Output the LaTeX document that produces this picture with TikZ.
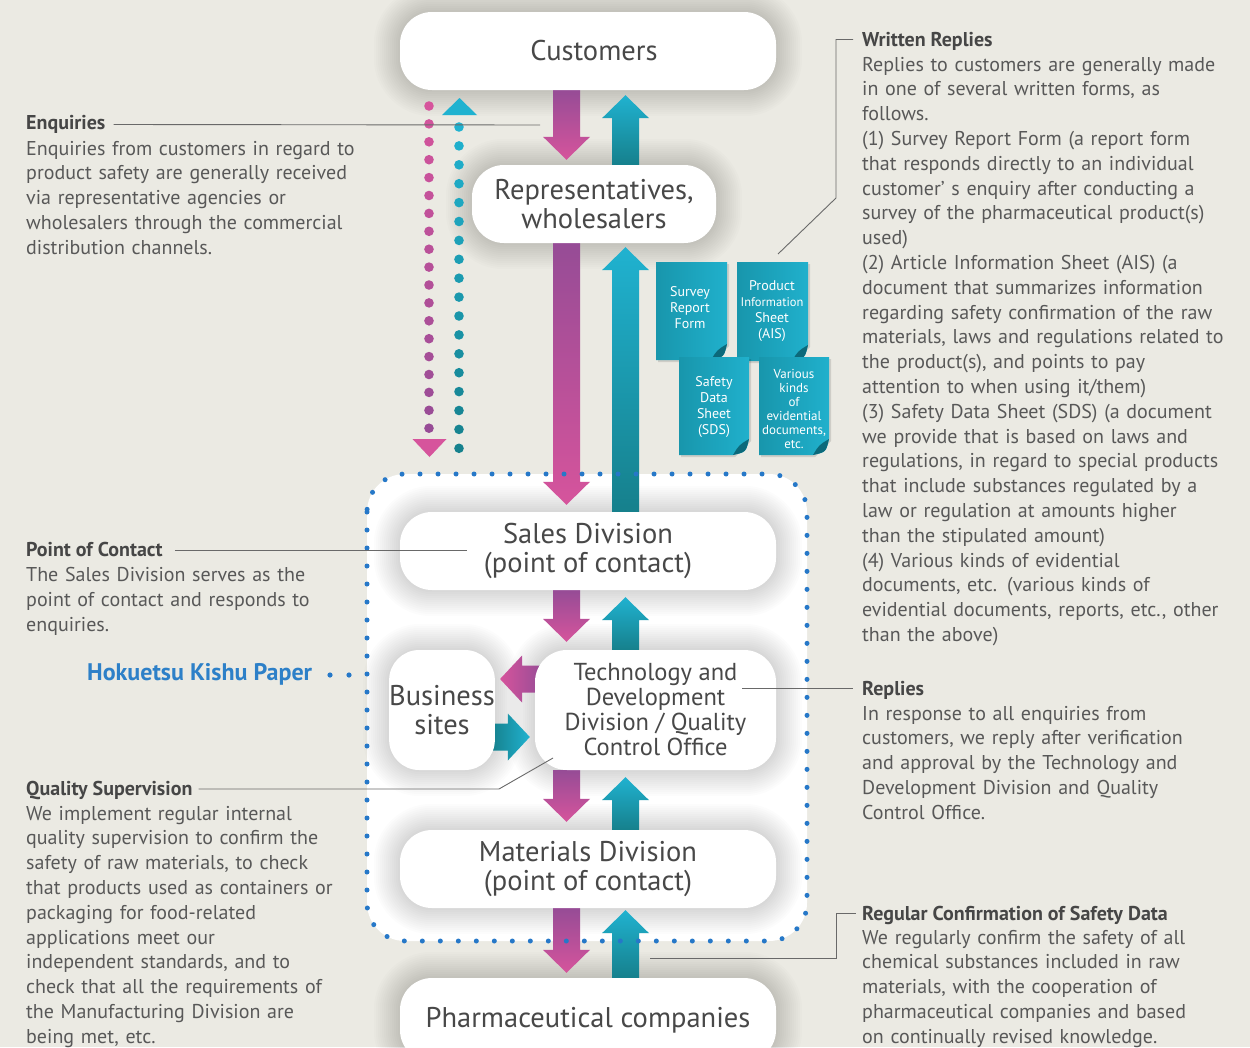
\documentclass[tikz,border=0pt]{standalone}
\usepackage{fontspec}
\setmainfont{PT Sans}
\usetikzlibrary{calc}
\definecolor{bgc}{RGB}{235,234,227}
\definecolor{txt}{RGB}{88,88,88}
\definecolor{hdc}{RGB}{70,70,70}
\definecolor{boxtxt}{RGB}{72,72,72}
\definecolor{pinkA}{RGB}{150,76,150}
\definecolor{pinkB}{RGB}{214,84,156}
\definecolor{tealA}{RGB}{22,128,140}
\definecolor{tealB}{RGB}{32,178,208}
\definecolor{dotblue}{RGB}{38,120,200}
\definecolor{hkblue}{RGB}{45,128,200}
\definecolor{docA}{RGB}{24,150,172}
\definecolor{docB}{RGB}{32,176,204}
\definecolor{docD}{RGB}{12,105,122}
\definecolor{leaderc}{RGB}{105,105,105}
\pgfdeclarelayer{bg}\pgfdeclarelayer{glow}\pgfdeclarelayer{arr}
\pgfsetlayers{bg,glow,arr,main}
\newcommand{\glowbox}[1]{\foreach \w in {4,8,...,52}{\draw[line width=\w pt, draw=black, draw opacity=0.012, rounded corners=32pt] (#1.south west) rectangle (#1.north east);}}
\newcommand{\pinkdown}[2]{\shade[top color=pinkA, bottom color=pinkB] ($(#1)+(-13.5,0)$) -- ($(#1)+(13.5,0)$) -- ($(#2)+(13.5,-23)$) -- ($(#2)+(23.5,-23)$) -- (#2) -- ($(#2)+(-23.5,-23)$) -- ($(#2)+(-13.5,-23)$) -- cycle;}
\newcommand{\tealup}[2]{\shade[top color=tealB, bottom color=tealA] ($(#1)+(-13.5,0)$) -- ($(#2)+(-13.5,23)$) -- ($(#2)+(-23.5,23)$) -- (#2) -- ($(#2)+(23.5,23)$) -- ($(#2)+(13.5,23)$) -- ($(#1)+(13.5,0)$) -- cycle;}
\newcommand{\docshape}[4]{%
  \fill[black, opacity=0.12] (#1+2,#2+2) -- (#3+2,#2+2) -- (#3+2,#4+2-16) -- (#3+2-16,#4+2) -- (#1+2,#4+2) -- cycle;
  \shade[left color=docA, right color=docB] (#1,#2) -- (#3,#2) -- (#3,#4-16) .. controls (#3-3,#4-3) .. (#3-16,#4) -- (#1,#4) -- cycle;
  \fill[docD] (#3,#4-16) .. controls (#3-3,#4-3) .. (#3-16,#4) .. controls (#3-10,#4-10) .. (#3,#4-16) -- cycle;}
\begin{document}
\begin{tikzpicture}[x=1pt,y=-1pt,
  bx/.style={rectangle, rounded corners=32pt, fill=white, inner sep=0pt, align=center, text=boxtxt, font=\fontsize{28.5}{29.5}\selectfont},
  leader/.style={draw=leaderc, line width=0.9pt},
  hd/.style={anchor=base west, inner sep=0pt, text=hdc, font=\fontsize{20}{24.8}\selectfont\bfseries},
  body/.style={anchor=base west, inner sep=0pt, text=txt, text width=400pt, align=left, font=\fontsize{20}{24.8}\selectfont},
  doctxt/.style={text=white, align=center, inner sep=0pt, font=\fontsize{14}{16}\selectfont},
]
\useasboundingbox (0,0) rectangle (1250,1047);
\begin{pgfonlayer}{bg}
\fill[bgc] (0,0) rectangle (1250,1047);
\fill[white, rounded corners=38pt] (367,474) rectangle (807,941);
\end{pgfonlayer}

% ---------- boxes ----------
\node[bx, minimum width=376, minimum height=78] (cust) at (588,51) {\hspace*{12pt}Customers};
\node[bx, minimum width=244, minimum height=78] (rep) at (594,204) {Representatives,\\wholesalers};
\node[bx, minimum width=376, minimum height=78] (sales) at (588,551) {Sales Division\\(point of contact)};
\node[bx, minimum width=100, minimum height=120, rounded corners=30pt] (biz) at (442,710) {Business\\sites};
\node[bx, minimum width=241, minimum height=120, font=\fontsize{24.5}{25}\selectfont] (tech) at (655.5,710) {Technology and\\Development\\Division / Quality\\Control Office};
\node[bx, minimum width=376, minimum height=78] (mat) at (588,869) {Materials Division\\(point of contact)};
\node[bx, minimum width=376, minimum height=84] (pharma) at (588,1020) {Pharmaceutical companies};

\begin{pgfonlayer}{glow}
\glowbox{cust}\glowbox{rep}\glowbox{sales}\glowbox{biz}\glowbox{tech}\glowbox{mat}\glowbox{pharma}
\end{pgfonlayer}

% ---------- block arrows ----------
\coordinate (pc) at (566.5,0);
\coordinate (tc) at (625.5,0);
\coordinate (p1t) at (pc |- cust.south);  \coordinate (p1h) at ($(pc |- rep.north)+(0,-5)$);
\coordinate (p2t) at (pc |- rep.south);   \coordinate (p2h) at ($(pc |- sales.north)+(0,-7)$);
\coordinate (p3t) at (pc |- sales.south); \coordinate (p3h) at ($(pc |- tech.north)+(0,-8)$);
\coordinate (p4t) at (pc |- tech.south);  \coordinate (p4h) at ($(pc |- mat.north)+(0,-8)$);
\coordinate (p5t) at (pc |- mat.south);   \coordinate (p5h) at ($(pc |- pharma.north)+(0,-5)$);
\coordinate (t1b) at (tc |- rep.north);   \coordinate (t1h) at ($(tc |- cust.south)+(0,5)$);
\coordinate (t2b) at (tc |- sales.north); \coordinate (t2h) at ($(tc |- rep.south)+(0,4)$);
\coordinate (t3b) at (tc |- tech.north);  \coordinate (t3h) at ($(tc |- sales.south)+(0,7)$);
\coordinate (t4b) at (tc |- mat.north);   \coordinate (t4h) at ($(tc |- tech.south)+(0,7)$);
\coordinate (t5b) at (tc |- pharma.north);\coordinate (t5h) at ($(tc |- mat.south)+(0,2)$);
\coordinate (hlt) at ($(tech.west)+(8,-31)$);   \coordinate (hlh) at ($(biz.east)+(5,-31)$);
\coordinate (hrt) at ($(biz.east)+(-4,27)$);    \coordinate (hrh) at ($(tech.west)+(-5,27)$);
\begin{pgfonlayer}{arr}
\pinkdown{p1t}{p1h}\pinkdown{p2t}{p2h}\pinkdown{p3t}{p3h}\pinkdown{p4t}{p4h}\pinkdown{p5t}{p5h}
\tealup{t1b}{t1h}\tealup{t2b}{t2h}\tealup{t3b}{t3h}\tealup{t4b}{t4h}\tealup{t5b}{t5h}
\shade[left color=pinkB, right color=pinkA] ($(hlt)+(0,-13.5)$) -- ($(hlh)+(22,-13.5)$) -- ($(hlh)+(22,-23.5)$) -- (hlh) -- ($(hlh)+(22,23.5)$) -- ($(hlh)+(22,13.5)$) -- ($(hlt)+(0,13.5)$) -- cycle;
\shade[left color=tealA, right color=tealB] ($(hrt)+(0,-13.5)$) -- ($(hrh)+(-22,-13.5)$) -- ($(hrh)+(-22,-23.5)$) -- (hrh) -- ($(hrh)+(-22,23.5)$) -- ($(hrh)+(-22,13.5)$) -- ($(hrt)+(0,13.5)$) -- cycle;
\end{pgfonlayer}

% ---------- dotted frame ----------
\draw[dotblue, line width=5pt, line cap=round, dash pattern=on 0pt off 18pt, rounded corners=38pt] (367,474) rectangle (807,941);

% ---------- dotted vertical arrows ----------
\foreach \i in {0,...,18}{
  \pgfmathsetmacro{\mx}{100-\i*5.5}
  \fill[pinkB!\mx!pinkA] (429,106+17.9*\i) circle (4.8);
}
\fill[pinkB] (412.5,439) -- (446.5,439) -- (429.5,457) -- cycle;
\foreach \i in {0,...,17}{
  \pgfmathsetmacro{\mx}{100-\i*5.8}
  \fill[tealB!\mx!tealA] (459,127+18.9*\i) circle (4.8);
}
\fill[tealB] (442,115) -- (477,115) -- (459.5,98) -- cycle;

% ---------- documents ----------
\docshape{656}{262}{727}{360}
\docshape{737}{262}{808}{361}
\docshape{679}{357}{749}{455}
\docshape{759}{357}{829}{455}
\node[doctxt] (docsr) at (690,308) {Survey\\Report\\Form};
\node[doctxt] (docais) at (772,311) {Product\\{\fontsize{12.5}{16}\selectfont Information}\\Sheet\\(AIS)};
\node[doctxt] (docsds) at (714,407) {Safety\\Data\\Sheet\\(SDS)};
\node[doctxt, font=\fontsize{13}{14}\selectfont] (docvar) at (794,409) {Various\\kinds\\of\\evidential\\documents,\\etc.};

% ---------- left texts ----------
\node[hd] (enqH) at (26,129.5) {Enquiries};
\node[body] (enqB) at (26,155) {Enquiries from customers in regard to\\product safety are generally received\\via representative agencies or\\wholesalers through the commercial\\distribution channels.};
\node[hd] (pocH) at (26,556) {Point of Contact};
\node[body] (pocB) at (26,581.5) {The Sales Division serves as the\\point of contact and responds to\\enquiries.};
\node[anchor=base west, inner sep=0pt, text=hkblue, font=\fontsize{24}{28}\selectfont\bfseries] (hk) at (87,680) {Hokuetsu Kishu Paper};
\fill[dotblue] (330,675) circle (2.6) (349,675) circle (2.6);
\node[hd] (qsH) at (26,795) {Quality Supervision};
\node[body] (qsB) at (26,820) {We implement regular internal\\quality supervision to confirm the\\safety of raw materials, to check\\that products used as containers or\\packaging for food-related\\applications meet our\\independent standards, and to\\check that all the requirements of\\the Manufacturing Division are\\being met, etc.};

% ---------- right texts ----------
\node[hd] (wrH) at (862,46) {Written Replies};
\node[body] (wrB) at (862,71) {Replies to customers are generally made\\in one of several written forms, as\\follows.\\(1) Survey Report Form (a report form\\that responds directly to an individual\\customer’ s enquiry after conducting a\\survey of the pharmaceutical product(s)\\used)\\(2) Article Information Sheet (AIS) (a\\document that summarizes information\\regarding safety confirmation of the raw\\materials, laws and regulations related to\\the product(s), and points to pay\\attention to when using it/them)\\(3) Safety Data Sheet (SDS) (a document\\we provide that is based on laws and\\regulations, in regard to special products\\that include substances regulated by a\\law or regulation at amounts higher\\than the stipulated amount)\\(4) Various kinds of evidential\\documents, etc. (various kinds of\\evidential documents, reports, etc., other\\than the above)};
\node[hd] (rpH) at (862,695) {Replies};
\node[body] (rpB) at (862,720) {In response to all enquiries from\\customers, we reply after verification\\and approval by the Technology and\\Development Division and Quality\\Control Office.};
\node[hd] (rcH) at (862,920) {Regular Confirmation of Safety Data};
\node[body] (rcB) at (862,944) {We regularly confirm the safety of all\\chemical substances included in raw\\materials, with the cooperation of\\pharmaceutical companies and based\\on continually revised knowledge.};

% ---------- leader lines ----------
\coordinate (enqE) at (540,125);
\draw[leader] ($(enqH.base east)+(8,-5)$) -- (enqE);
\coordinate (wr1) at (836,39.5); \coordinate (wr2) at (836,198); \coordinate (wrE) at (778,254);
\draw[leader] ($(wrH.base west)+(-9,-6.5)$) -- (wr1) -- (wr2) -- (wrE);
\coordinate (pocE) at (467,550);
\draw[leader] ($(pocH.base east)+(12,-6)$) -- (pocE);
\coordinate (rpS) at (742,688);
\draw[leader] (rpS) -- ($(rpH.base west)+(-9,-7)$);
\coordinate (qs1) at (499,789); \coordinate (qsE) at (553,758);
\draw[leader] ($(qsH.base east)+(6,-6)$) -- (qs1) -- (qsE);
\coordinate (rcS) at (650,958); \coordinate (rc1) at (836,958); \coordinate (rc2) at (836,913);
\draw[leader] (rcS) -- (rc1) -- (rc2) -- ($(rcH.base west)+(-6,-7)$);
\end{tikzpicture}
\end{document}
